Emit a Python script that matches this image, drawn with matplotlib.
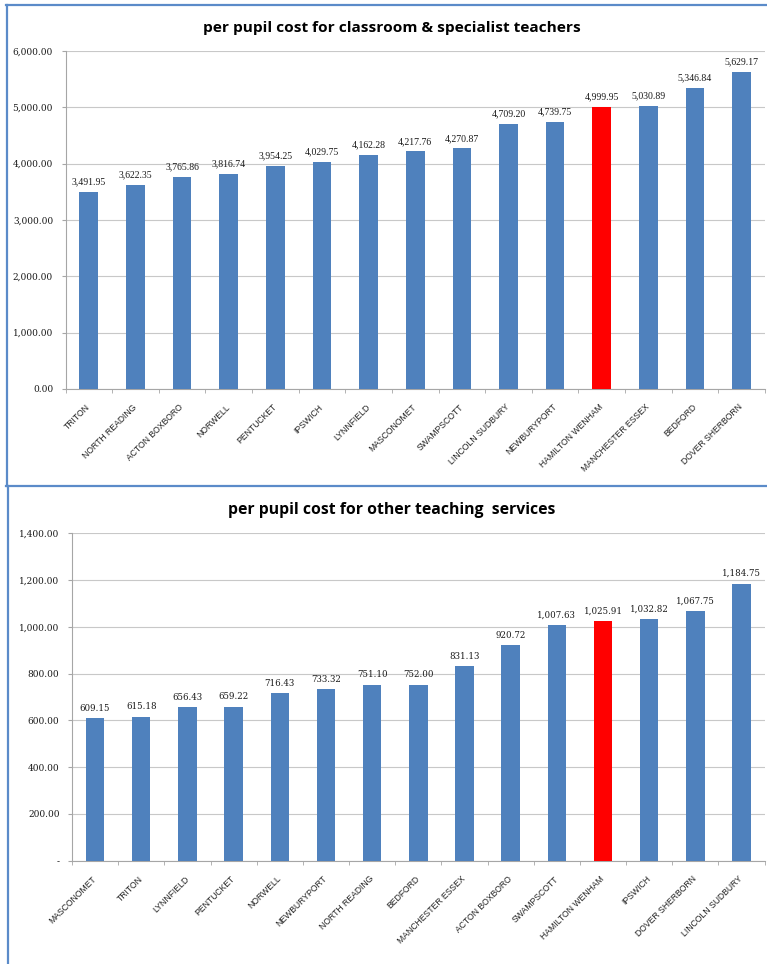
import numpy as np
import matplotlib
matplotlib.use("Agg")
import matplotlib.pyplot as plt
from matplotlib.lines import Line2D
from matplotlib.ticker import FuncFormatter

# data
teach_names = ["TRITON", "NORTH READING", "ACTON BOXBORO", "NORWELL", "PENTUCKET",
               "IPSWICH", "LYNNFIELD", "MASCONOMET", "SWAMPSCOTT", "LINCOLN SUDBURY",
               "NEWBURYPORT", "HAMILTON WENHAM", "MANCHESTER ESSEX", "BEDFORD",
               "DOVER SHERBORN"]
teach_cost = [3491.95, 3622.35, 3765.86, 3816.74, 3954.25, 4029.75, 4162.28, 4217.76,
              4270.87, 4709.20, 4739.75, 4999.95, 5030.89, 5346.84, 5629.17]

other_names = ["MASCONOMET", "TRITON", "LYNNFIELD", "PENTUCKET", "NORWELL",
               "NEWBURYPORT", "NORTH READING", "BEDFORD", "MANCHESTER ESSEX",
               "ACTON BOXBORO", "SWAMPSCOTT", "HAMILTON WENHAM", "IPSWICH",
               "DOVER SHERBORN", "LINCOLN SUDBURY"]
other_cost = [609.15, 615.18, 656.43, 659.22, 716.43, 733.32, 751.10, 752.00, 831.13,
              920.72, 1007.63, 1025.91, 1032.82, 1067.75, 1184.75]

highlight = "HAMILTON WENHAM"
blue = "#4F81BD"
red = "#FF0000"
W, H = 767, 964

fig = plt.figure(figsize=(W / 100, H / 100), dpi=100)


def px_axes(left, top, right, bottom):
    # pixel box (from top-left) -> figure fraction
    return fig.add_axes([left / W, 1 - bottom / H, (right - left) / W, (bottom - top) / H])


def draw_bars(ax, names, vals, ymax, step, zero_dash, val_font, val_size):
    x = np.arange(len(names))
    colors = [red if n == highlight else blue for n in names]
    ax.bar(x, vals, width=0.4, color=colors, zorder=3)
    ax.set_xlim(-0.5, len(names) - 0.5)
    ax.set_ylim(0, ymax)
    ax.set_yticks(np.arange(0, ymax + 1, step))
    ax.yaxis.set_major_formatter(FuncFormatter(
        lambda v, p: "-" if (zero_dash and v == 0) else f"{v:,.2f}"))
    ax.grid(axis="y", color="#c8c8c8", linewidth=0.8, zorder=0)
    for s in ["top", "right"]:
        ax.spines[s].set_visible(False)
    for s in ["left", "bottom"]:
        ax.spines[s].set_color("#a6a6a6")
        ax.spines[s].set_linewidth(0.8)
    ax.tick_params(axis="y", length=3, color="#a6a6a6", pad=6, labelsize=6.5,
                   labelcolor="#1a1a1a")
    for lab in ax.get_yticklabels():
        lab.set_family("DejaVu Serif")
    # category labels at centres, tick marks between categories
    ax.set_xticks(x)
    ax.set_xticklabels(names, rotation=45, ha="right", va="center",
                       rotation_mode="anchor", fontsize=6.2, family="Liberation Sans",
                       color="#222222")
    ax.tick_params(axis="x", which="major", length=0, pad=12)
    ax.set_xticks(np.arange(-0.5, len(names)), minor=True)
    ax.tick_params(axis="x", which="minor", length=3, color="#a6a6a6")
    for xi, v in zip(x, vals):
        ax.annotate(f"{v:,.2f}", (xi, v), xytext=(0, 4), textcoords="offset points",
                    ha="center", va="bottom", fontsize=val_size, family=val_font,
                    color="#1a1a1a")


ax1 = px_axes(65.5, 51, 765, 389)
draw_bars(ax1, teach_names, teach_cost, 6000, 1000, False, "Liberation Serif", 7.0)
fig.text(392 / W, 1 - 28 / H, "per pupil cost for classroom & specialist teachers",
         ha="center", va="center", fontsize=11.1, fontweight="bold", family="Open Sans")

ax2 = px_axes(72, 533.3, 764.6, 860.7)
draw_bars(ax2, other_names, other_cost, 1400, 200, True, "DejaVu Serif", 6.2)
fig.text(392 / W, 1 - 510 / H, "per pupil cost for other teaching  services",
         ha="center", va="center", fontsize=11.3, fontweight="bold", family="Open Sans")

# panel borders
bc = "#5B8BC9"
def hline(y, x0=6, x1=767):
    fig.add_artist(Line2D([x0 / W, x1 / W], [1 - y / H, 1 - y / H], color=bc, lw=1.6))
def vline(x, y0, y1):
    fig.add_artist(Line2D([x / W, x / W], [1 - y0 / H, 1 - y1 / H], color=bc, lw=1.6))

hline(5)
hline(485.5)
vline(6.5, 5, 485.5)
vline(7.5, 485.5, 964)

fig.savefig("out.png", dpi=100)
